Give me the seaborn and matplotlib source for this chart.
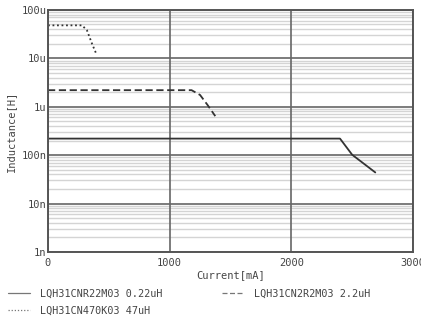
import numpy as np
import pandas as pd
import seaborn as sns
import matplotlib
matplotlib.use("Agg")
from matplotlib import pyplot as plt
from matplotlib.ticker import LogLocator, FixedLocator, NullFormatter

# Inductance vs. DC current
parts = ["LQH31CNR22M03 0.22uH", "LQH31CN2R2M03 2.2uH", "LQH31CN470K03 47uH"]

current_r22 = [0, 2400, 2500, 2690]
induct_r22 = [2.2e-7, 2.2e-7, 1.02e-7, 4.4e-8]

current_2r2 = [0, 1180, 1250, 1310, 1375]
induct_2r2 = [2.2e-6, 2.2e-6, 1.75e-6, 1.1e-6, 6.4e-7]

current_470 = [0, 280, 320, 362, 395]
induct_470 = [4.8e-5, 4.8e-5, 3.8e-5, 2.0e-5, 1.27e-5]

y_ticks = [1e-9, 1e-8, 1e-7, 1e-6, 1e-5, 1e-4]
y_labels = ["1n", "10n", "100n", "1u", "10u", "100u"]
x_ticks = [0, 1000, 2000, 3000]

df = pd.concat([
    pd.DataFrame({"current": current_r22, "inductance": induct_r22, "part": parts[0]}),
    pd.DataFrame({"current": current_2r2, "inductance": induct_2r2, "part": parts[1]}),
    pd.DataFrame({"current": current_470, "inductance": induct_470, "part": parts[2]}),
])

sns.set_style("white")
plt.rcParams["font.family"] = ["DejaVu Sans Mono", "DejaVu Sans"]

fig = plt.figure(figsize=(4.21, 3.20), dpi=100)
ax = fig.add_axes([0.114, 0.2125, 0.867, 0.7565])

line_styles = {parts[0]: "-", parts[1]: (0, (4, 2)), parts[2]: (0, (1, 1.5))}
for part in parts:
    sub = df[df["part"] == part]
    sns.lineplot(data=sub, x="current", y="inductance", ax=ax, color="#333333",
                 linewidth=1.3, linestyle=line_styles[part], label=part,
                 estimator=None, sort=False)

ax.set_yscale("log")
ax.set_xlim(0, 3000)
ax.set_ylim(1e-9, 1e-4)

ax.yaxis.set_major_locator(FixedLocator(y_ticks))
ax.set_yticklabels(y_labels)
ax.yaxis.set_minor_locator(LogLocator(base=10, subs=np.arange(2, 10)))
ax.yaxis.set_minor_formatter(NullFormatter())
ax.xaxis.set_major_locator(FixedLocator(x_ticks))
ax.set_xticklabels([str(t) for t in x_ticks])

ax.grid(which="minor", axis="y", color="#d4d4d4", linewidth=1.0, linestyle="-")
ax.grid(which="major", axis="both", color="#666666", linewidth=1.2, linestyle="-")
ax.set_axisbelow(True)
# draw the vertical grid over the light minor lines so it stays unbroken
ax.yaxis.set_zorder(0.5)
ax.xaxis.set_zorder(0.6)

ax.tick_params(which="both", length=0)
ax.tick_params(axis="y", pad=1, labelsize=7.5, labelcolor="#444444")
ax.tick_params(axis="x", pad=4, labelsize=7.5, labelcolor="#444444")

for spine in ax.spines.values():
    spine.set_color("#555555")
    spine.set_linewidth(1.4)

ax.set_xlabel("Current[mA]", fontsize=7.5, color="#444444", labelpad=2)
ax.set_ylabel("Inductance[H]", fontsize=7.5, color="#444444", labelpad=4)

# legend: row 1 = 0.22uH | 2.2uH, row 2 = 47uH
handles, labels = ax.get_legend_handles_labels()
order = [0, 2, 1]
ax.legend([handles[i] for i in order], [labels[i] for i in order], ncol=2,
          loc="upper left", bbox_to_anchor=(0.014, 0.105),
          bbox_transform=fig.transFigure, frameon=False, fontsize=7.3,
          handlelength=2.2, handletextpad=1.0, columnspacing=5.8,
          labelspacing=0.75, borderaxespad=0.0, borderpad=0.2,
          labelcolor="#444444")
for h in ax.get_legend().get_lines():
    h.set_linewidth(0.9)
    h.set_color("#777777")

fig.savefig("out.png", dpi=100)
